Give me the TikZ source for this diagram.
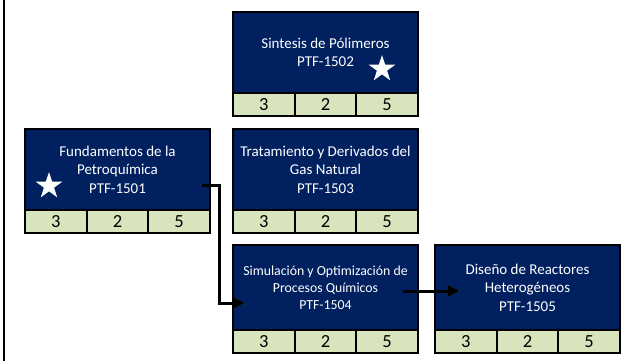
\documentclass[tikz,border=0pt]{standalone}
\usepackage{fontspec}
\setmainfont{Carlito}
\usetikzlibrary{arrows.meta,shapes.geometric,calc}
\definecolor{navy}{HTML}{002060}
\definecolor{cellgreen}{HTML}{D8E4BC}
\newcommand\mkcourse[6]{%
  \node[course,minimum height=#4pt,font=#6] (#1) at (#2,#3) {#5};
  \node[cell] (#1a) at (#1.south west) {3};
  \node[cell] (#1b) at (#1a.north east) {2};
  \node[cell] (#1c) at (#1b.north east) {5};
}
\begin{document}
\begin{tikzpicture}[x=1pt,y=-1pt,
  course/.style={draw=black,line width=2pt,fill=navy,text=white,minimum width=185pt,
    inner sep=0pt,outer sep=0pt,align=center,anchor=north west},
  cell/.style={draw=black,line width=2pt,fill=cellgreen,minimum width=61.667pt,minimum height=23pt,
    inner sep=0pt,outer sep=0pt,anchor=north west,font=\fontsize{18.5}{20}\selectfont},
  staricon/.style={star,star points=5,star point ratio=2.618,fill=white,minimum size=28pt,inner sep=0pt},
  link/.style={line width=3pt,-{Triangle[length=12pt,width=11pt]}},
  linkshadow/.style={line width=3pt,draw=black!35,opacity=0.6,-{Triangle[length=12pt,width=11pt]}},
]
\useasboundingbox (0,0) rectangle (635,360);
\draw[line width=2pt] (4,-5) -- (4,365);

\def\fnormal{\fontsize{15}{18.5}\selectfont}
\def\fsmall{\fontsize{13.8}{17}\selectfont}

\mkcourse{fund}{25}{129}{81}{Fundamentos de la\\Petroquímica\\PTF-1501}{\fnormal}
\mkcourse{sint}{233}{12}{81}{Sintesis de Pólimeros\\PTF-1502}{\fnormal}
\mkcourse{trat}{233}{129}{81}{Tratamiento y Derivados del\\Gas Natural\\PTF-1503}{\fnormal}
\mkcourse{simu}{233}{245}{85}{Simulación y Optimización de\\Procesos Químicos\\PTF-1504}{\fsmall}
\mkcourse{dise}{435}{245}{85}{Diseño de Reactores\\Heterogéneos\\PTF-1505}{\fnormal}

\node[staricon] (star1) at (49,186) {};
\node[staricon] (star2) at (382,69) {};

\coordinate (s1) at ([xshift=-8pt,yshift=-16pt]fund.east);
\coordinate (bend) at (219.5,0);
\coordinate (e1) at ([xshift=12pt,yshift=-15.5pt]simu.west);
\coordinate (s2) at ([xshift=-15pt,yshift=-3.5pt]simu.east);
\coordinate (e2) at ([xshift=25pt,yshift=-3.5pt]dise.west);

\begin{scope}[shift={(1.5,1.5)}]
\draw[linkshadow] (s1) -| (bend |- e1) -- (e1);
\draw[linkshadow] (s2) -- (e2);
\end{scope}
\draw[link] (s1) -| (bend |- e1) -- (e1);
\draw[link] (s2) -- (e2);
\end{tikzpicture}
\end{document}
